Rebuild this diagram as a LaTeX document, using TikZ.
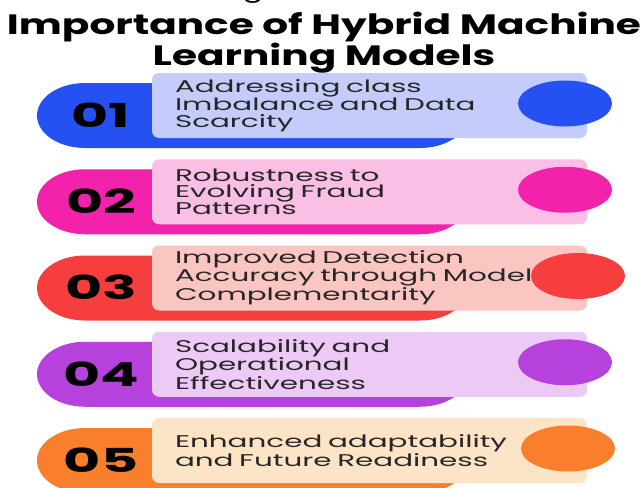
\documentclass[tikz,border=0pt]{standalone}
\usepackage{fontspec}
\setmainfont{Poppins}
\newfontfamily\titlefont[FakeStretch=1.45]{Poppins}
\newfontfamily\bodyfont[FakeStretch=1.73]{Poppins}
\usetikzlibrary{positioning}

\definecolor{blueA}{HTML}{2651F2}
\definecolor{blueB}{HTML}{C3CCFA}
\definecolor{pinkA}{HTML}{F222AA}
\definecolor{pinkB}{HTML}{FBBFE6}
\definecolor{redA}{HTML}{F73E3E}
\definecolor{redB}{HTML}{FBC5C1}
\definecolor{purpA}{HTML}{B641DC}
\definecolor{purpB}{HTML}{EDC9F5}
\definecolor{orngA}{HTML}{FA7F2C}
\definecolor{orngB}{HTML}{FDE4C6}

\begin{document}
\begin{tikzpicture}[x=1pt,y=-1pt,
  itembox/.style={rectangle, rounded corners=7, minimum width=435, minimum height=65,
    text width=389, inner xsep=23, align=left, text=black!85,
    font=\bodyfont\fontsize{17}{16.5}\selectfont},
  numlabel/.style={font=\bodyfont\bfseries\fontsize{33}{33}\selectfont, text=black}]
  \useasboundingbox (0,0) rectangle (644,487);
  \fill[white] (0,0) rectangle (644,487);
  % heading
  \node[anchor=base, font=\titlefont\fontsize{22}{22}\selectfont] (cut) at (253,-2) {g};
  \node[align=center, font=\titlefont\bfseries\fontsize{28}{26}\selectfont] (title) at (324,43)
    {Importance of Hybrid Machine\\Learning Models};
  % one row per point: pill, light box, dot, number
  \foreach \i/\dk/\lt/\ex/\txt in {
      1/blueA/blueB/565/{Addressing class\\Imbalance and Data\\Scarcity},
      2/pinkA/pinkB/565/{Robustness to\\Evolving Fraud\\Patterns},
      3/redA/redB/578/{Improved Detection\\Accuracy through Model\\Complementarity},
      4/purpA/purpB/565/{Scalability and\\Operational\\Effectiveness},
      5/orngA/orngB/568/{Enhanced adaptability\\and Future Readiness}} {
    \pgfmathsetmacro{\rowtop}{72+86.25*(\i-1)}
    \fill[\dk] (85,\rowtop+11) -- (420,\rowtop+11)
      arc[start angle=-90, end angle=90, x radius=48, y radius=32.5]
      -- (85,\rowtop+76)
      arc[start angle=90, end angle=270, x radius=48, y radius=32.5] -- cycle;
    \node[itembox, fill=\lt] (box\i) at (369.5,\rowtop+33.5) {\txt};
    \fill[\dk] (\ex,\rowtop+31.5) ellipse[x radius=47, y radius=23];
    \node[numlabel] (num\i) at (101,\rowtop+43) {0\i};
  }
\end{tikzpicture}
\end{document}
